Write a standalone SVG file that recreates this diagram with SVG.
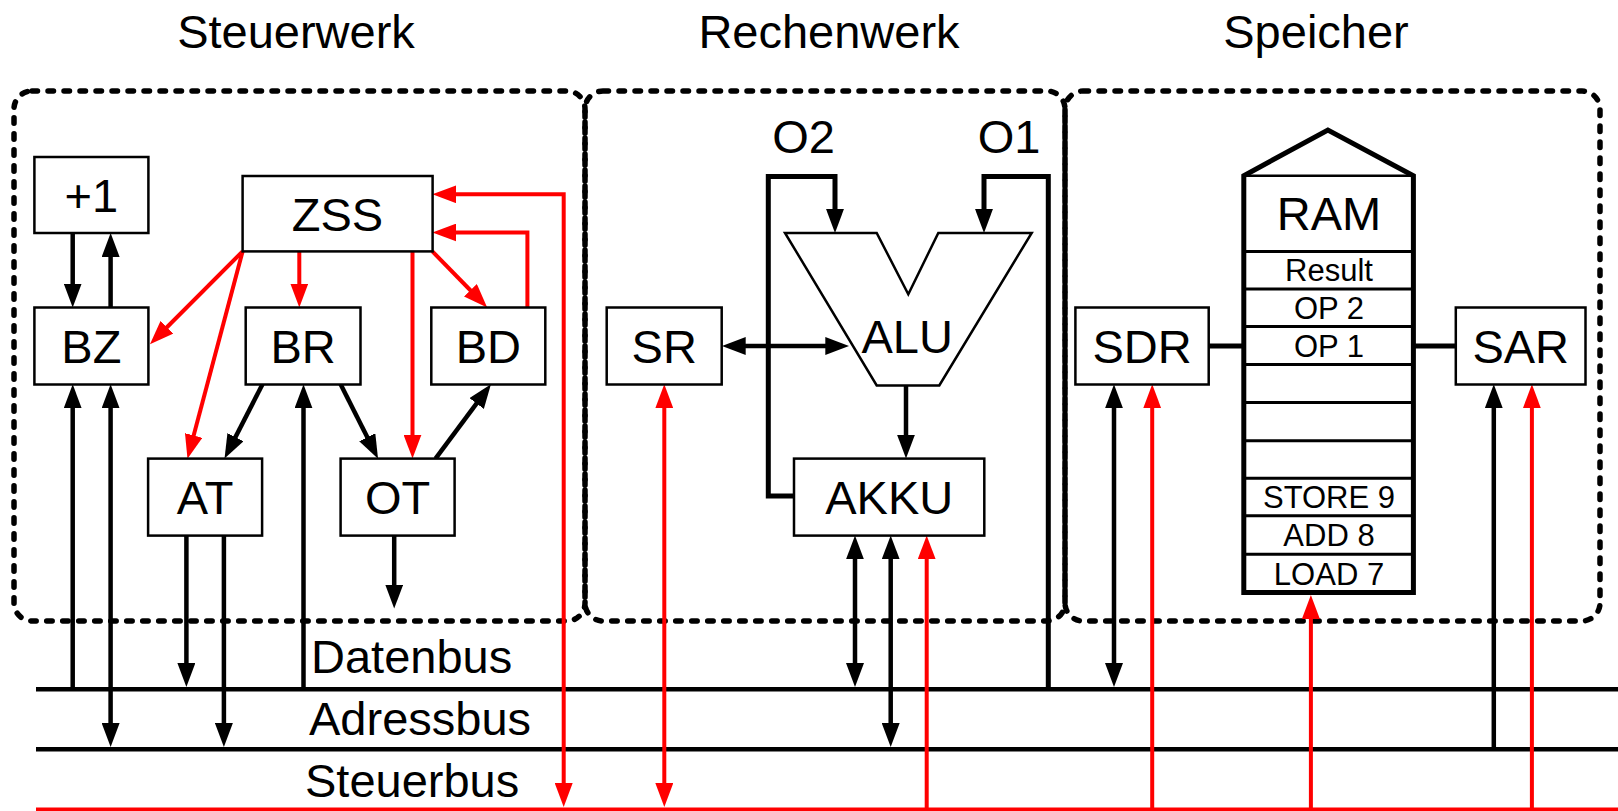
<svg xmlns="http://www.w3.org/2000/svg" width="1618" height="811" viewBox="0 0 1618 811">
<defs>
<style>
.t{font-family:"Liberation Sans",Arial,sans-serif;font-size:47px;fill:#000;text-anchor:middle}
.tl{font-family:"Liberation Sans",Arial,sans-serif;font-size:47px;fill:#000}
.ts{font-family:"Liberation Sans",Arial,sans-serif;font-size:31px;fill:#000;text-anchor:middle}
.box{fill:#fff;stroke:#000;stroke-width:2.5}
.dash{fill:none;stroke:#000;stroke-width:5.5;stroke-dasharray:5.5 10.5;stroke-linecap:round}
.b{fill:none;stroke:#000;stroke-width:4.5}
.bw{fill:none;stroke:#000;stroke-width:5;stroke-linejoin:miter}
.r{fill:none;stroke:#f00;stroke-width:4}
.ab{marker-end:url(#ab)}
.abs{marker-start:url(#ab)}
.ar{marker-end:url(#ar)}
.ars{marker-start:url(#ar)}
</style>
<marker id="ab" markerUnits="userSpaceOnUse" markerWidth="24" markerHeight="18" refX="1" refY="9" orient="auto-start-reverse"><path d="M0,0 L24,9 L0,18 Z" fill="#000"/></marker>
<marker id="ar" markerUnits="userSpaceOnUse" markerWidth="24" markerHeight="18" refX="1" refY="9" orient="auto-start-reverse"><path d="M0,0 L24,9 L0,18 Z" fill="#f00"/></marker>
</defs>
<rect width="1618" height="811" fill="#fff"/>

<g id="titles">
<text class="t" x="296" y="48">Steuerwerk</text>
<text class="t" x="829" y="48">Rechenwerk</text>
<text class="t" x="1316" y="48">Speicher</text>
</g>

<g id="regions">
<rect id="steuerwerk" class="dash" x="14" y="91" width="571" height="530" rx="18"/>
<rect id="rechenwerk" class="dash" x="585" y="91" width="480" height="530" rx="18"/>
<rect id="speicher" class="dash" x="1065" y="91" width="535" height="530" rx="18"/>
</g>

<g id="buses">
<path class="b" d="M36,689.3 H1618"/>
<path class="b" d="M36,749.3 H1618"/>
<path fill="none" stroke="#f00" stroke-width="3.5" d="M36,809.3 H1618"/>
<text class="tl" x="311" y="673">Datenbus</text>
<text class="tl" x="309" y="735">Adressbus</text>
<text class="tl" x="305" y="797">Steuerbus</text>
</g>

<g id="connectors">
<!-- Steuerwerk black -->
<path class="b ab" d="M72.7,233 V284.5"/>
<path class="b ab" d="M110.6,307.5 V256"/>
<path class="b ab" d="M72.7,689 V407.3"/>
<path class="b abs ab" d="M110.6,407.3 V724"/>
<path class="b ab" d="M262.5,384.3 L235,438.1"/>
<path class="b ab" d="M340.6,384.3 L367.7,438.1"/>
<path class="b ab" d="M435.5,458.6 L477.2,402.7"/>
<path class="b ab" d="M394.2,535.4 V585.6"/>
<path class="b ab" d="M186.4,535.4 V664"/>
<path class="b ab" d="M223.9,535.4 V724"/>
<path class="b ab" d="M303.5,689 V407.3"/>
<!-- Steuerwerk red -->
<path class="r ar" d="M242.6,251.4 L166.2,328"/>
<path class="r ar" d="M242.6,251.4 L193.4,436.4"/>
<path class="r ar" d="M299.3,251.4 V284.5"/>
<path class="r ar" d="M412.5,251.4 V435.6"/>
<path class="r ar" d="M432.4,251.4 L471.1,291"/>
<path class="r ar" d="M527.4,307.5 V232.5 H455.4"/>
<path class="r ars ar" d="M455.4,194.3 H563.7 V784"/>
<!-- Rechenwerk -->
<path class="bw ab" d="M793.3,496 H768.3 V176.4 H835 V209.9"/>
<path class="bw ab" d="M1048.3,689 V176.4 H984 V209.9"/>
<path class="b abs ab" d="M744.7,346 H826.3"/>
<path class="b ab" d="M906,385.4 V435.6"/>
<path class="b abs ab" d="M855,558.4 V664"/>
<path class="b abs ab" d="M890.7,558.4 V724"/>
<path class="r ar" d="M926.7,809 V558.4"/>
<path class="r ars ar" d="M664.3,407.3 V784"/>
<!-- Speicher -->
<path class="b abs ab" d="M1114,407.3 V664"/>
<path class="r ar" d="M1152.2,809 V407.3"/>
<path class="r ar" d="M1310.9,809 V618"/>
<path class="b ab" d="M1493.8,749 V407.3"/>
<path class="r ar" d="M1531.9,809 V407.3"/>
<path class="bw" d="M1208.7,346 H1243.8"/>
<path class="bw" d="M1413.4,346 H1455.8"/>
</g>

<g id="n-plus1"><rect class="box" x="34.4" y="157" width="114" height="76"/><text class="t" x="91.4" y="212">+1</text></g>
<g id="n-bz"><rect class="box" x="34.4" y="307.5" width="114" height="77"/><text class="t" x="91.4" y="363">BZ</text></g>
<g id="n-zss"><rect class="box" x="242.6" y="176" width="190" height="75.4"/><text class="t" x="337.5" y="230.5">ZSS</text></g>
<g id="n-br"><rect class="box" x="245.7" y="307.5" width="114.8" height="77"/><text class="t" x="303.1" y="363">BR</text></g>
<g id="n-bd"><rect class="box" x="431.3" y="307.5" width="114" height="77"/><text class="t" x="488.3" y="363">BD</text></g>
<g id="n-at"><rect class="box" x="148.1" y="458.6" width="114" height="77"/><text class="t" x="205.1" y="514">AT</text></g>
<g id="n-ot"><rect class="box" x="340.6" y="458.6" width="114" height="77"/><text class="t" x="397.6" y="514">OT</text></g>

<g id="n-sr"><rect class="box" x="606.7" y="307.5" width="115" height="77"/><text class="t" x="664.2" y="363">SR</text></g>
<g id="n-alu"><polygon fill="#fff" stroke="#000" stroke-width="2.5" points="785,232.9 876.7,232.9 908.3,294.3 938.3,232.9 1031.7,232.9 939.3,385.4 876.7,385.4"/><text class="t" x="907.2" y="353">ALU</text></g>
<g id="n-akku"><rect class="box" x="794" y="458.6" width="190.3" height="77"/><text class="t" x="889.2" y="514">AKKU</text></g>
<g id="labels-o"><text class="t" x="803.5" y="153">O2</text><text class="t" x="1009" y="153">O1</text></g>

<g id="n-sdr"><rect class="box" x="1075.4" y="307.5" width="133.3" height="77"/><text class="t" x="1142" y="363">SDR</text></g>
<g id="n-sar"><rect class="box" x="1455.8" y="307.5" width="129.7" height="77"/><text class="t" x="1520.7" y="363">SAR</text></g>
<g id="n-ram">
<path fill="#fff" stroke="#000" stroke-width="5" stroke-linejoin="miter" d="M1243.8,592.5 V175.7 L1327.9,130 L1413.4,175.7 V592.5 Z"/>
<path fill="none" stroke="#000" stroke-width="2.5" d="M1243.8,175.7 H1413.4"/>
<path fill="none" stroke="#000" stroke-width="3" d="M1243.8,251.4 H1413.4 M1243.8,288.9 H1413.4 M1243.8,326.4 H1413.4 M1243.8,364.6 H1413.4 M1243.8,402.5 H1413.4 M1243.8,440.7 H1413.4 M1243.8,478.2 H1413.4 M1243.8,515.7 H1413.4 M1243.8,554.3 H1413.4"/>
<text class="t" x="1329" y="230">RAM</text>
<text class="ts" x="1329" y="281">Result</text>
<text class="ts" x="1329" y="318.5">OP 2</text>
<text class="ts" x="1329" y="356.5">OP 1</text>
<text class="ts" x="1329" y="508">STORE 9</text>
<text class="ts" x="1329" y="546">ADD 8</text>
<text class="ts" x="1329" y="584.5">LOAD 7</text>
</g>
</svg>
